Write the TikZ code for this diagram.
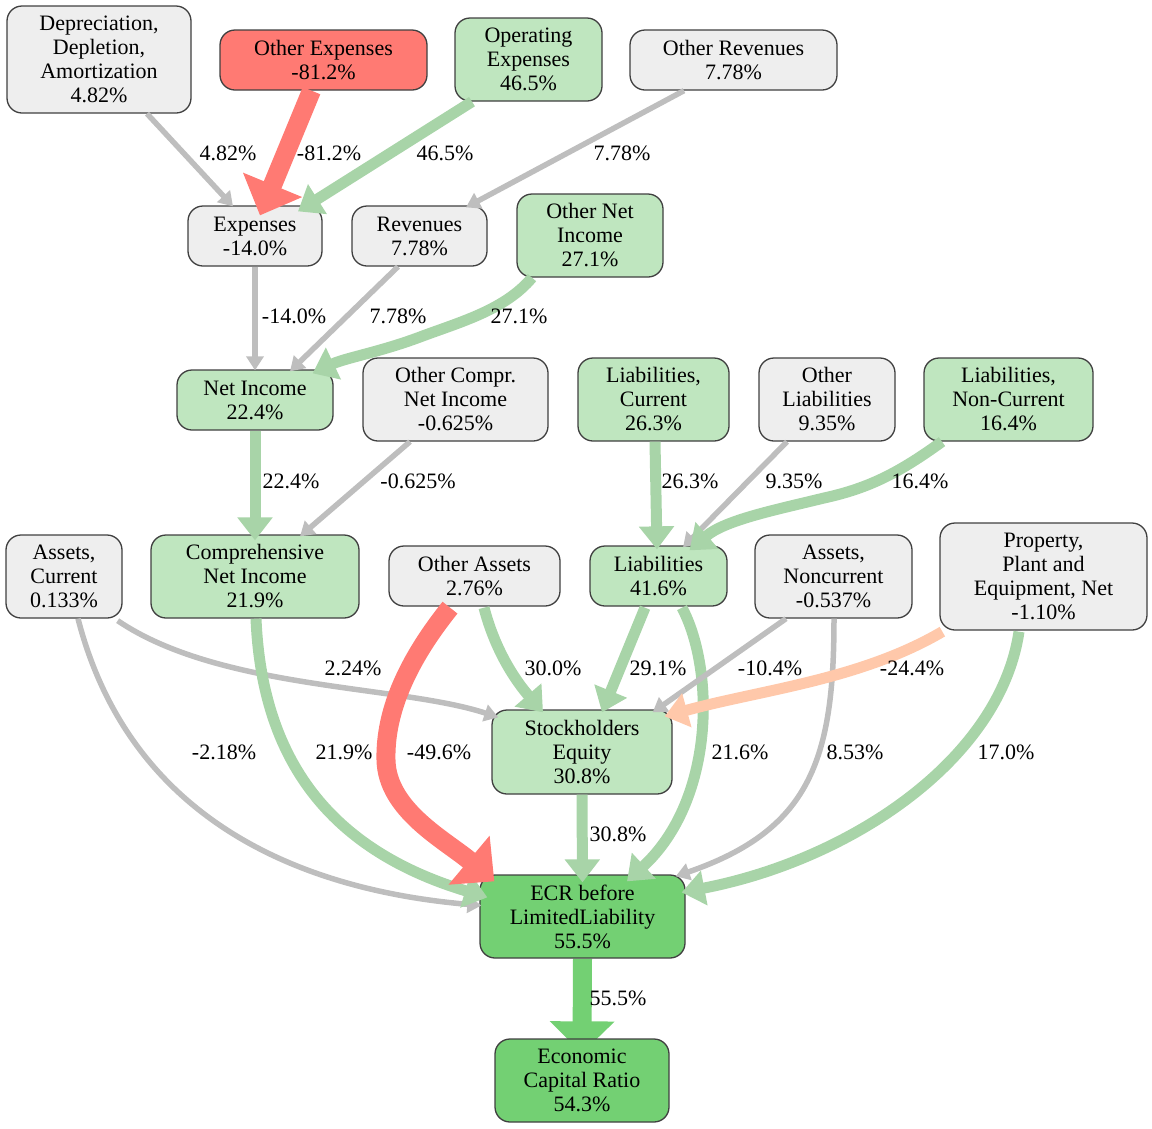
\documentclass[tikz,border=0pt]{standalone}
\usepackage{fontspec}
\setmainfont{Liberation Serif}
\usetikzlibrary{arrows.meta,calc}
\definecolor{ngray}{HTML}{EEEEEE}
\definecolor{ngreen}{HTML}{BFE6BF}
\definecolor{nred}{HTML}{FF7A73}
\definecolor{ndkgreen}{HTML}{73D073}
\definecolor{egray}{HTML}{BEBEBE}
\definecolor{egreen}{HTML}{A8D4A8}
\definecolor{esalmon}{HTML}{FFC8AA}
\definecolor{bordercol}{HTML}{404040}
\pgfdeclarelayer{background}
\pgfsetlayers{background,main}
\begin{document}
\begin{tikzpicture}[x=1pt,y=-1pt,
 box/.style={draw=bordercol,line width=1.3pt,rounded corners=15pt,align=center,inner sep=0pt,font=\fontsize{22}{24}\selectfont},
 gbox/.style={box,fill=ngray},
 lgbox/.style={box,fill=ngreen},
 rbox/.style={box,fill=nred},
 dgbox/.style={box,fill=ndkgreen},
 lbl/.style={font=\fontsize{22}{24}\selectfont,inner sep=0pt},
 eg/.style={draw=egray,line width=5.5pt,-{Triangle[length=14pt,width=17pt]}},
 egr/.style={draw=egreen,line width=11pt,-{Triangle[length=23pt,width=34pt]}},
 ered/.style={draw=nred,line width=19pt,-{Triangle[length=33pt,width=62pt]}},
 esal/.style={draw=esalmon,line width=11pt,-{Triangle[length=23pt,width=34pt]}},
 edk/.style={draw=ndkgreen,line width=19pt,-{Triangle[length=32pt,width=63pt]}},
]
\useasboundingbox (0,0) rectangle (1152,1128);

% nodes
\node[gbox,minimum width=184pt,minimum height=107pt] (dda) at (99,59.5) {Depreciation,\\Depletion,\\Amortization\\4.82\%};
\node[rbox,minimum width=207pt,minimum height=60pt] (oexp) at (323.5,60) {Other Expenses\\-81.2\%};
\node[lgbox,minimum width=147pt,minimum height=83pt] (opex) at (528.5,59.5) {Operating\\Expenses\\46.5\%};
\node[gbox,minimum width=207pt,minimum height=60pt] (orev) at (733.5,60) {Other Revenues\\7.78\%};
\node[gbox,minimum width=134pt,minimum height=60pt] (exp) at (255,236) {Expenses\\-14.0\%};
\node[gbox,minimum width=135pt,minimum height=60pt] (rev) at (419.5,236) {Revenues\\7.78\%};
\node[lgbox,minimum width=146pt,minimum height=83pt] (onin) at (590,235.5) {Other Net\\Income\\27.1\%};
\node[lgbox,minimum width=156pt,minimum height=60pt] (ni) at (255,400) {Net Income\\22.4\%};
\node[gbox,minimum width=185pt,minimum height=83pt] (ocni) at (455.5,399.5) {Other Compr.\\Net Income\\-0.625\%};
\node[lgbox,minimum width=151pt,minimum height=83pt] (lc) at (653.5,399.5) {Liabilities,\\Current\\26.3\%};
\node[gbox,minimum width=136pt,minimum height=83pt] (ol) at (827,399.5) {Other\\Liabilities\\9.35\%};
\node[lgbox,minimum width=169pt,minimum height=83pt] (lnc) at (1008.5,399.5) {Liabilities,\\Non-Current\\16.4\%};
\node[gbox,minimum width=116pt,minimum height=83pt] (ac) at (64,576.5) {Assets,\\Current\\0.133\%};
\node[lgbox,minimum width=208pt,minimum height=83pt] (compni) at (255,576.5) {Comprehensive\\Net Income\\21.9\%};
\node[gbox,minimum width=171pt,minimum height=60pt] (oa) at (474.5,576) {Other Assets\\2.76\%};
\node[lgbox,minimum width=137pt,minimum height=60pt] (liab) at (658.5,576) {Liabilities\\41.6\%};
\node[gbox,minimum width=157pt,minimum height=83pt] (anc) at (833.5,576.5) {Assets,\\Noncurrent\\-0.537\%};
\node[gbox,minimum width=207pt,minimum height=107pt] (ppe) at (1043.5,576.5) {Property,\\Plant and\\Equipment, Net\\-1.10\%};
\node[lgbox,minimum width=180pt,minimum height=84pt] (se) at (582,752) {Stockholders\\Equity\\30.8\%};
\node[dgbox,minimum width=205pt,minimum height=83pt] (ecr) at (582.5,916.5) {ECR before\\LimitedLiability\\55.5\%};
\node[dgbox,minimum width=174pt,minimum height=83pt] (ecrr) at (582,1080.5) {Economic\\Capital Ratio\\54.3\%};

% edges
\draw[eg] ($(dda.south)+(48,0)$) -- ($(exp.north)+(-22,1)$);
\draw[ered] ($(oexp.south)+(-12,0)$) -- ($(exp.north)+(5,10)$);
\draw[egr] ($(opex.south)+(-56.5,0)$) -- ($(exp.north)+(43,6)$);
\draw[eg] ($(orev.south)+(-49.5,0)$) -- ($(rev.north)+(46.5,2)$);
\draw[eg] (exp.south) -- ($(ni.north)+(0,1)$);
\draw[eg] ($(rev.south)+(-21.5,0)$) -- ($(ni.north)+(35,2)$);
\draw[egr] ($(onin.south)+(-58,0)$) .. controls (505,310) and (460,322) .. (420,337) .. controls (380,352) and (345,358) .. ($(ni.north east)+(-21,4)$);
\draw[egr] (ni.south) -- ($(compni.north)+(0,6)$);
\draw[eg] ($(ocni.south)+(-45.5,0)$) -- ($(compni.north)+(45,2)$);
\draw[egr] ($(lc.south)+(1.5,0)$) -- ($(liab.north)+(-1.5,4)$);
\draw[eg] ($(ol.south)+(-40,0)$) -- ($(liab.north)+(24.5,2)$);
\draw[egr] ($(lnc.south)+(-66.5,0)$) .. controls (900,472) and (870,488) .. (824,498) .. controls (775,510) and (725,520) .. ($(liab.north)+(31,5)$);
\draw[eg] ($(ac.south east)+(-5,2)$) .. controls (220,690) and (400,685) .. ($(se.north west)+(7,8)$);
\draw[eg] ($(ac.south)+(14,0)$) .. controls (130,820) and (300,890) .. ($(ecr.west)+(2,-11)$);
\draw[egr] ($(compni.south)+(1,0)$) .. controls (262,760) and (330,850) .. ($(ecr.north west)+(8,23)$);
\draw[ered] ($(oa.south)+(-24.5,1)$) .. controls (400,670) and (385,720) .. (386,760) .. controls (387,810) and (445,840) .. ($(ecr.north west)+(15,7)$);
\draw[egr] ($(oa.south)+(9.5,1)$) .. controls (495,650) and (515,680) .. ($(se.north)+(-39,3)$);
\draw[egr] ($(liab.south)+(-13.5,1)$) -- ($(se.north)+(20,3)$);
\draw[egr] ($(liab.south)+(23.5,1)$) .. controls (715,670) and (715,800) .. ($(ecr.north)+(44.5,7)$);
\draw[eg] ($(anc.south)+(-47.5,0)$) -- ($(se.north east)+(-20,3)$);
\draw[eg] ($(anc.south)+(0.5,0)$) .. controls (834,760) and (810,830) .. ($(ecr.north east)+(-10,2)$);
\draw[esal] ($(ppe.south west)+(3,1)$) .. controls (860,680) and (760,690) .. ($(se.north east)+(-8,7)$);
\draw[egr] ($(ppe.south)+(-24.5,1)$) .. controls (1000,760) and (850,860) .. ($(ecr.north east)+(-4,18)$);
\draw[egr] (se.south) -- ($(ecr.north)+(0,8)$);
\begin{pgfonlayer}{background}
\draw[edk] (ecr.south) -- ($(ecrr.north)+(0,15)$);
\end{pgfonlayer}

% labels
\node[lbl] (l1) at (228,153) {4.82\%};
\node[lbl] (l2) at (329,153) {-81.2\%};
\node[lbl] (l3) at (445,153) {46.5\%};
\node[lbl] (l4) at (622,153) {7.78\%};
\node[lbl] (l5) at (294,316) {-14.0\%};
\node[lbl] (l6) at (398,316) {7.78\%};
\node[lbl] (l7) at (519,316) {27.1\%};
\node[lbl] (l8) at (291,481) {22.4\%};
\node[lbl] (l9) at (418,481) {-0.625\%};
\node[lbl] (l10) at (690,481) {26.3\%};
\node[lbl] (l11) at (794,481) {9.35\%};
\node[lbl] (l12) at (920,481) {16.4\%};
\node[lbl] (l13) at (353,668) {2.24\%};
\node[lbl] (l14) at (553,668) {30.0\%};
\node[lbl] (l15) at (658,668) {29.1\%};
\node[lbl] (l16) at (770,668) {-10.4\%};
\node[lbl] (l17) at (912,668) {-24.4\%};
\node[lbl] (l18) at (224,752) {-2.18\%};
\node[lbl] (l19) at (344,752) {21.9\%};
\node[lbl] (l20) at (439,752) {-49.6\%};
\node[lbl] (l21) at (740,752) {21.6\%};
\node[lbl] (l22) at (855,752) {8.53\%};
\node[lbl] (l23) at (1006,752) {17.0\%};
\node[lbl] (l24) at (618,834) {30.8\%};
\node[lbl] (l25) at (618,998) {55.5\%};
\end{tikzpicture}
\end{document}
